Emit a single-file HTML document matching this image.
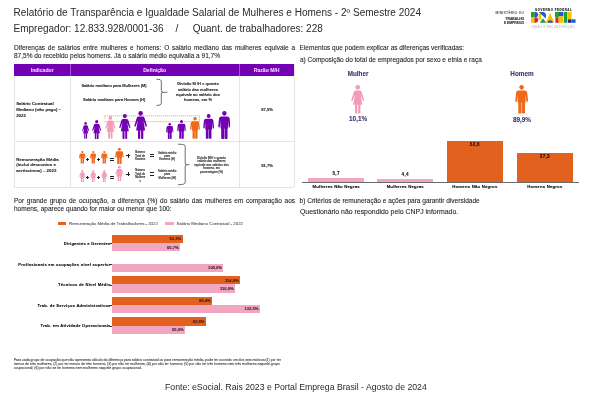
<!DOCTYPE html>
<html><head><meta charset="utf-8"><style>
html,body{margin:0;padding:0;background:#fff;}
body{width:600px;height:405px;position:relative;overflow:hidden;font-family:"Liberation Sans",sans-serif;}
.t{position:absolute;white-space:nowrap;}
.s{-webkit-text-stroke:0.08px currentColor;}
.r{position:absolute;display:block;}
#w{position:absolute;left:0;top:0;width:600px;height:405px;background:#fff;filter:blur(0.35px);}
</style></head><body><div id="w">
<div class="t" style="top:7.29px;font-size:10.04px;line-height:12.05px;color:#2a2a2a;left:13.60px;">Relatório de Transparência e Igualdade Salarial de Mulheres e Homens - 2º Semestre 2024</div>
<div class="t" style="top:22.63px;font-size:10px;line-height:12.00px;color:#2a2a2a;left:13.50px;">Empregador: 12.833.928/0001-36</div>
<div class="t" style="top:22.63px;font-size:10px;line-height:12.00px;color:#2a2a2a;left:175.60px;">/</div>
<div class="t" style="top:22.63px;font-size:10px;line-height:12.00px;color:#2a2a2a;left:192.70px;">Quant. de trabalhadores: 228</div>
<div class="t s" style="top:12.16px;font-size:3.3px;line-height:3.96px;color:#444;letter-spacing:0.3px;right:75.60px;text-align:right;">MINISTÉRIO DO</div>
<div class="t s" style="top:17.46px;font-size:3.35px;line-height:4.02px;color:#222;font-weight:700;letter-spacing:0px;right:75.80px;text-align:right;">TRABALHO</div>
<div class="t s" style="top:21.06px;font-size:3.35px;line-height:4.02px;color:#222;font-weight:700;letter-spacing:0px;right:75.80px;text-align:right;">E EMPREGO</div>
<div class="t s" style="top:9.36px;font-size:2.9px;line-height:3.48px;color:#111;font-weight:700;letter-spacing:0.53px;left:523.60px;width:60px;text-align:center;">GOVERNO FEDERAL</div>
<div class="t s" style="top:26.36px;font-size:2.6px;line-height:3.12px;color:#b4bcd8;letter-spacing:0.5px;left:523.20px;width:60px;text-align:center;">UNIÃO E RECONSTRUÇÃO</div>
<svg class="r" style="left:531.4px;top:12px" width="44.6" height="10.8" viewBox="0 0 557 135" preserveAspectRatio="none"><rect x="0" y="0" width="47" height="66" fill="#1ea038"/><path d="M47 0H55A33 33 0 0 1 55 66H47Z" fill="#2456d6"/><rect x="0" y="66" width="42" height="69" fill="#f6c200"/><path d="M42 66H55A34.5 34.5 0 0 1 55 135H42Z" fill="#e3241c"/><rect x="94" y="20" width="34" height="75" fill="#f6c200"/><path d="M96 0H150A40 40 0 0 1 186 55L186 82Z" fill="#2456d6"/><path d="M110 135L150 78L190 135Z" fill="#1ea038"/><path d="M186 135L238 8L292 135Z" fill="#f6c200"/><path d="M206 135A33 33 0 0 1 272 135Z" fill="#2456d6"/><rect x="300" y="0" width="50" height="68" fill="#1ea038"/><rect x="350" y="0" width="55" height="55" fill="#2456d6"/><rect x="305" y="68" width="40" height="67" fill="#e3241c"/><rect x="345" y="55" width="60" height="80" fill="#f6c200"/><rect x="412" y="0" width="42" height="135" fill="#1ea038"/><rect x="458" y="0" width="48" height="95" fill="#f6c200"/><rect x="462" y="92" width="42" height="43" fill="#1b2f7a"/><rect x="504" y="92" width="53" height="43" fill="#2456d6"/></svg>
<div class="t s" style="top:43.90px;font-size:6.5px;line-height:7.80px;color:#222;left:14.00px;width:281px;text-align:justify;text-align-last:justify;">Diferenças de salários entre mulheres e homens: O salário mediano das mulheres equivale a</div>
<div class="t s" style="top:52.30px;font-size:6.5px;line-height:7.80px;color:#222;left:14.00px;">87,5% do recebido pelos homens. Já o salário médio equivalia a 91,7%</div>
<div class="t s" style="top:44.00px;font-size:6.5px;line-height:7.80px;color:#222;left:299.60px;">Elementos que podem explicar as diferenças verificadas:</div>
<div class="t s" style="top:55.60px;font-size:6.5px;line-height:7.80px;color:#222;left:300.00px;">a) Composição do total de empregados por sexo e etnia e raça</div>
<div class="r" style="left:14.00px;top:63.80px;width:280.50px;height:12.10px;background:#7300b3;"></div>
<div class="r" style="left:70.00px;top:63.80px;width:0.80px;height:12.10px;background:#a852dc;"></div>
<div class="r" style="left:238.50px;top:63.80px;width:0.80px;height:12.10px;background:#a852dc;"></div>
<div class="t s" style="top:66.82px;font-size:5.1px;line-height:6.12px;color:#f4d2ff;font-weight:700;left:14.20px;width:56px;text-align:center;">Indicador</div>
<div class="t s" style="top:66.82px;font-size:5.1px;line-height:6.12px;color:#f4d2ff;font-weight:700;left:94.60px;width:120px;text-align:center;">Definição</div>
<div class="t s" style="top:66.82px;font-size:5.1px;line-height:6.12px;color:#f4d2ff;font-weight:700;left:238.70px;width:56px;text-align:center;">Razão M/H</div>
<div class="r" style="left:13.80px;top:75.90px;width:0.60px;height:111.30px;background:#e4e4e4;"></div>
<div class="r" style="left:70.00px;top:75.90px;width:0.60px;height:111.30px;background:#e4e4e4;"></div>
<div class="r" style="left:238.60px;top:75.90px;width:0.60px;height:111.30px;background:#e4e4e4;"></div>
<div class="r" style="left:293.90px;top:63.80px;width:0.60px;height:123.40px;background:#e4e4e4;"></div>
<div class="r" style="left:13.80px;top:141.10px;width:280.70px;height:0.60px;background:#e4e4e4;"></div>
<div class="r" style="left:13.80px;top:186.70px;width:280.70px;height:0.60px;background:#e4e4e4;"></div>
<div class="t s" style="top:101.18px;font-size:4.37px;line-height:5.24px;color:#222;font-weight:700;left:16.20px;">Salário Contratual</div>
<div class="t s" style="top:106.93px;font-size:4.37px;line-height:5.24px;color:#222;font-weight:700;left:16.20px;">Mediano (não pago) –</div>
<div class="t s" style="top:112.68px;font-size:4.37px;line-height:5.24px;color:#222;font-weight:700;left:16.20px;">2022</div>
<div class="t s" style="top:156.87px;font-size:4.38px;line-height:5.26px;color:#222;font-weight:700;left:16.20px;">Remuneração Média</div>
<div class="t s" style="top:162.37px;font-size:4.38px;line-height:5.26px;color:#222;font-weight:700;left:16.20px;">(inclui descontos e</div>
<div class="t s" style="top:167.87px;font-size:4.38px;line-height:5.26px;color:#222;font-weight:700;left:16.20px;">acréscimos) – 2022</div>
<div class="t s" style="top:84.00px;font-size:3.95px;line-height:4.74px;color:#222;font-weight:700;left:74.00px;width:80px;text-align:center;">Salário mediano para Mulheres (M)</div>
<div class="t s" style="top:98.20px;font-size:3.96px;line-height:4.75px;color:#222;font-weight:700;left:74.20px;width:80px;text-align:center;">Salário mediano para Homem (H)</div>
<svg class="r" style="left:150px;top:76px" width="30" height="34" viewBox="0 0 30 34" fill="none" stroke="#333" stroke-width="0.7"><path d="M6.5 3.2Q11.3 3.2 11.3 5V14.5Q11.3 16.3 13 16.3H17.5M13 16.3Q11.3 16.3 11.3 18V27.5Q11.3 29.5 6.5 29.5"/></svg>
<div class="t s" style="top:82.30px;font-size:4.0px;line-height:4.80px;color:#222;font-weight:700;left:168.00px;width:60px;text-align:center;">Divisão M /H = quanto</div>
<div class="t s" style="top:87.67px;font-size:4.0px;line-height:4.80px;color:#222;font-weight:700;left:168.00px;width:60px;text-align:center;">salário das mulheres</div>
<div class="t s" style="top:93.04px;font-size:4.0px;line-height:4.80px;color:#222;font-weight:700;left:168.00px;width:60px;text-align:center;">equivale ao salário dos</div>
<div class="t s" style="top:98.41px;font-size:4.0px;line-height:4.80px;color:#222;font-weight:700;left:168.00px;width:60px;text-align:center;">homens, em %</div>
<svg class="r" style="left:100px;top:112px" width="104" height="14" viewBox="0 0 104 14" fill="none" stroke="#d49a48" stroke-width="0.8" stroke-dasharray="1.1 0.9"><path d="M4.3 7V3.8H99.5V9.6"/><path d="M4.3 9.6H99.5"/></svg>
<svg class="r" style="left:81.70px;top:122.30px" width="7.30" height="16.70" viewBox="0 0 100 205" preserveAspectRatio="none" fill="#7300b3"><circle cx="50" cy="17" r="17"/><path d="M36 40H64Q75 40 79 50L97 106Q99 113 93 114Q88 115 86 109L71 70L84 142H16L29 70L14 109Q12 115 7 114Q1 113 3 106L21 50Q25 40 36 40Z"/><path d="M30 138H47V199Q47 205 40 205H37Q30 205 30 199Z"/><path d="M53 138H70V199Q70 205 63 205H60Q53 205 53 199Z"/></svg>
<svg class="r" style="left:92.00px;top:119.70px" width="9.40" height="19.30" viewBox="0 0 100 205" preserveAspectRatio="none" fill="#7300b3"><circle cx="50" cy="17" r="17"/><path d="M36 40H64Q75 40 79 50L97 106Q99 113 93 114Q88 115 86 109L71 70L84 142H16L29 70L14 109Q12 115 7 114Q1 113 3 106L21 50Q25 40 36 40Z"/><path d="M30 138H47V199Q47 205 40 205H37Q30 205 30 199Z"/><path d="M53 138H70V199Q70 205 63 205H60Q53 205 53 199Z"/></svg>
<svg class="r" style="left:105.00px;top:116.30px" width="10.70" height="22.70" viewBox="0 0 100 205" preserveAspectRatio="none" fill="#f29cb8"><circle cx="50" cy="17" r="17"/><path d="M36 40H64Q75 40 79 50L97 106Q99 113 93 114Q88 115 86 109L71 70L84 142H16L29 70L14 109Q12 115 7 114Q1 113 3 106L21 50Q25 40 36 40Z"/><path d="M30 138H47V199Q47 205 40 205H37Q30 205 30 199Z"/><path d="M53 138H70V199Q70 205 63 205H60Q53 205 53 199Z"/></svg>
<svg class="r" style="left:119.00px;top:114.00px" width="11.70" height="25.00" viewBox="0 0 100 205" preserveAspectRatio="none" fill="#7300b3"><circle cx="50" cy="17" r="17"/><path d="M36 40H64Q75 40 79 50L97 106Q99 113 93 114Q88 115 86 109L71 70L84 142H16L29 70L14 109Q12 115 7 114Q1 113 3 106L21 50Q25 40 36 40Z"/><path d="M30 138H47V199Q47 205 40 205H37Q30 205 30 199Z"/><path d="M53 138H70V199Q70 205 63 205H60Q53 205 53 199Z"/></svg>
<svg class="r" style="left:133.70px;top:111.00px" width="13.30" height="28.00" viewBox="0 0 100 205" preserveAspectRatio="none" fill="#7300b3"><circle cx="50" cy="17" r="17"/><path d="M36 40H64Q75 40 79 50L97 106Q99 113 93 114Q88 115 86 109L71 70L84 142H16L29 70L14 109Q12 115 7 114Q1 113 3 106L21 50Q25 40 36 40Z"/><path d="M30 138H47V199Q47 205 40 205H37Q30 205 30 199Z"/><path d="M53 138H70V199Q70 205 63 205H60Q53 205 53 199Z"/></svg>
<svg class="r" style="left:166.20px;top:122.70px" width="7.50" height="16.00" viewBox="0 0 100 205" preserveAspectRatio="none" fill="#7300b3"><circle cx="50" cy="17" r="17"/><path d="M26 40H74Q90 40 92 56L98 112Q99 120 92 120Q86 120 85 113L80 70V128H20V70L15 113Q14 120 8 120Q1 120 2 112L8 56Q10 40 26 40Z"/><path d="M25 124H48.5V199Q48.5 205 42 205H31Q25 205 25 199Z"/><path d="M51.5 124H75V199Q75 205 69 205H58Q51.5 205 51.5 199Z"/></svg>
<svg class="r" style="left:177.00px;top:120.00px" width="9.00" height="18.70" viewBox="0 0 100 205" preserveAspectRatio="none" fill="#7300b3"><circle cx="50" cy="17" r="17"/><path d="M26 40H74Q90 40 92 56L98 112Q99 120 92 120Q86 120 85 113L80 70V128H20V70L15 113Q14 120 8 120Q1 120 2 112L8 56Q10 40 26 40Z"/><path d="M25 124H48.5V199Q48.5 205 42 205H31Q25 205 25 199Z"/><path d="M51.5 124H75V199Q75 205 69 205H58Q51.5 205 51.5 199Z"/></svg>
<svg class="r" style="left:189.70px;top:117.00px" width="10.10" height="21.70" viewBox="0 0 100 205" preserveAspectRatio="none" fill="#f0681a"><circle cx="50" cy="17" r="17"/><path d="M26 40H74Q90 40 92 56L98 112Q99 120 92 120Q86 120 85 113L80 70V128H20V70L15 113Q14 120 8 120Q1 120 2 112L8 56Q10 40 26 40Z"/><path d="M25 124H48.5V199Q48.5 205 42 205H31Q25 205 25 199Z"/><path d="M51.5 124H75V199Q75 205 69 205H58Q51.5 205 51.5 199Z"/></svg>
<svg class="r" style="left:203.20px;top:114.00px" width="11.30" height="24.70" viewBox="0 0 100 205" preserveAspectRatio="none" fill="#7300b3"><circle cx="50" cy="17" r="17"/><path d="M26 40H74Q90 40 92 56L98 112Q99 120 92 120Q86 120 85 113L80 70V128H20V70L15 113Q14 120 8 120Q1 120 2 112L8 56Q10 40 26 40Z"/><path d="M25 124H48.5V199Q48.5 205 42 205H31Q25 205 25 199Z"/><path d="M51.5 124H75V199Q75 205 69 205H58Q51.5 205 51.5 199Z"/></svg>
<svg class="r" style="left:217.50px;top:110.70px" width="12.70" height="28.00" viewBox="0 0 100 205" preserveAspectRatio="none" fill="#7300b3"><circle cx="50" cy="17" r="17"/><path d="M26 40H74Q90 40 92 56L98 112Q99 120 92 120Q86 120 85 113L80 70V128H20V70L15 113Q14 120 8 120Q1 120 2 112L8 56Q10 40 26 40Z"/><path d="M25 124H48.5V199Q48.5 205 42 205H31Q25 205 25 199Z"/><path d="M51.5 124H75V199Q75 205 69 205H58Q51.5 205 51.5 199Z"/></svg>
<div class="t s" style="top:107.44px;font-size:4.16px;line-height:4.99px;color:#222;font-weight:700;left:247.20px;width:40px;text-align:center;">87,5%</div>
<svg class="r" style="left:79.00px;top:151.20px" width="6.70" height="12.50" viewBox="0 0 100 205" preserveAspectRatio="none" fill="#f0681a"><circle cx="50" cy="17" r="17"/><path d="M26 40H74Q90 40 92 56L98 112Q99 120 92 120Q86 120 85 113L80 70V128H20V70L15 113Q14 120 8 120Q1 120 2 112L8 56Q10 40 26 40Z"/><path d="M25 124H48.5V199Q48.5 205 42 205H31Q25 205 25 199Z"/><path d="M51.5 124H75V199Q75 205 69 205H58Q51.5 205 51.5 199Z"/></svg>
<svg class="r" style="left:79.00px;top:169.70px" width="6.70" height="12.00" viewBox="0 0 100 205" preserveAspectRatio="none" fill="#f29cb8"><circle cx="50" cy="17" r="17"/><path d="M36 40H64Q75 40 79 50L97 106Q99 113 93 114Q88 115 86 109L71 70L84 142H16L29 70L14 109Q12 115 7 114Q1 113 3 106L21 50Q25 40 36 40Z"/><path d="M30 138H47V199Q47 205 40 205H37Q30 205 30 199Z"/><path d="M53 138H70V199Q70 205 63 205H60Q53 205 53 199Z"/></svg>
<svg class="r" style="left:89.70px;top:151.20px" width="6.60" height="12.50" viewBox="0 0 100 205" preserveAspectRatio="none" fill="#f0681a"><circle cx="50" cy="17" r="17"/><path d="M26 40H74Q90 40 92 56L98 112Q99 120 92 120Q86 120 85 113L80 70V128H20V70L15 113Q14 120 8 120Q1 120 2 112L8 56Q10 40 26 40Z"/><path d="M25 124H48.5V199Q48.5 205 42 205H31Q25 205 25 199Z"/><path d="M51.5 124H75V199Q75 205 69 205H58Q51.5 205 51.5 199Z"/></svg>
<svg class="r" style="left:89.70px;top:169.70px" width="6.60" height="12.00" viewBox="0 0 100 205" preserveAspectRatio="none" fill="#f29cb8"><circle cx="50" cy="17" r="17"/><path d="M36 40H64Q75 40 79 50L97 106Q99 113 93 114Q88 115 86 109L71 70L84 142H16L29 70L14 109Q12 115 7 114Q1 113 3 106L21 50Q25 40 36 40Z"/><path d="M30 138H47V199Q47 205 40 205H37Q30 205 30 199Z"/><path d="M53 138H70V199Q70 205 63 205H60Q53 205 53 199Z"/></svg>
<svg class="r" style="left:101.40px;top:151.20px" width="6.60" height="12.50" viewBox="0 0 100 205" preserveAspectRatio="none" fill="#f0681a"><circle cx="50" cy="17" r="17"/><path d="M26 40H74Q90 40 92 56L98 112Q99 120 92 120Q86 120 85 113L80 70V128H20V70L15 113Q14 120 8 120Q1 120 2 112L8 56Q10 40 26 40Z"/><path d="M25 124H48.5V199Q48.5 205 42 205H31Q25 205 25 199Z"/><path d="M51.5 124H75V199Q75 205 69 205H58Q51.5 205 51.5 199Z"/></svg>
<svg class="r" style="left:101.40px;top:169.70px" width="6.60" height="12.00" viewBox="0 0 100 205" preserveAspectRatio="none" fill="#f29cb8"><circle cx="50" cy="17" r="17"/><path d="M36 40H64Q75 40 79 50L97 106Q99 113 93 114Q88 115 86 109L71 70L84 142H16L29 70L14 109Q12 115 7 114Q1 113 3 106L21 50Q25 40 36 40Z"/><path d="M30 138H47V199Q47 205 40 205H37Q30 205 30 199Z"/><path d="M53 138H70V199Q70 205 63 205H60Q53 205 53 199Z"/></svg>
<svg class="r" style="left:115.10px;top:147.60px" width="8.80" height="16.10" viewBox="0 0 100 205" preserveAspectRatio="none" fill="#f0681a"><circle cx="50" cy="17" r="17"/><path d="M26 40H74Q90 40 92 56L98 112Q99 120 92 120Q86 120 85 113L80 70V128H20V70L15 113Q14 120 8 120Q1 120 2 112L8 56Q10 40 26 40Z"/><path d="M25 124H48.5V199Q48.5 205 42 205H31Q25 205 25 199Z"/><path d="M51.5 124H75V199Q75 205 69 205H58Q51.5 205 51.5 199Z"/></svg>
<svg class="r" style="left:115.10px;top:166.30px" width="8.80" height="15.20" viewBox="0 0 100 205" preserveAspectRatio="none" fill="#f29cb8"><circle cx="50" cy="17" r="17"/><path d="M36 40H64Q75 40 79 50L97 106Q99 113 93 114Q88 115 86 109L71 70L84 142H16L29 70L14 109Q12 115 7 114Q1 113 3 106L21 50Q25 40 36 40Z"/><path d="M30 138H47V199Q47 205 40 205H37Q30 205 30 199Z"/><path d="M53 138H70V199Q70 205 63 205H60Q53 205 53 199Z"/></svg>
<div class="r" style="left:85.70px;top:159.20px;width:3.20px;height:1.00px;background:#222;"></div>
<div class="r" style="left:86.80px;top:158.10px;width:1.00px;height:3.20px;background:#222;"></div>
<div class="r" style="left:96.90px;top:159.20px;width:3.20px;height:1.00px;background:#222;"></div>
<div class="r" style="left:98.00px;top:158.10px;width:1.00px;height:3.20px;background:#222;"></div>
<div class="r" style="left:109.70px;top:158.20px;width:4.00px;height:1.00px;background:#222;"></div>
<div class="r" style="left:109.70px;top:160.20px;width:4.00px;height:1.00px;background:#222;"></div>
<div class="r" style="left:85.70px;top:177.00px;width:3.20px;height:1.00px;background:#222;"></div>
<div class="r" style="left:86.80px;top:175.90px;width:1.00px;height:3.20px;background:#222;"></div>
<div class="r" style="left:96.90px;top:177.00px;width:3.20px;height:1.00px;background:#222;"></div>
<div class="r" style="left:98.00px;top:175.90px;width:1.00px;height:3.20px;background:#222;"></div>
<div class="r" style="left:109.70px;top:176.00px;width:4.00px;height:1.00px;background:#222;"></div>
<div class="r" style="left:109.70px;top:178.00px;width:4.00px;height:1.00px;background:#222;"></div>
<div class="r" style="left:126.10px;top:155.45px;width:4.00px;height:0.90px;background:#222;"></div>
<div class="r" style="left:127.65px;top:153.90px;width:0.90px;height:4.00px;background:#222;"></div>
<div class="r" style="left:126.10px;top:173.55px;width:4.00px;height:0.90px;background:#222;"></div>
<div class="r" style="left:127.65px;top:172.00px;width:0.90px;height:4.00px;background:#222;"></div>
<div class="r" style="left:149.80px;top:154.35px;width:4.20px;height:1.00px;background:#222;"></div>
<div class="r" style="left:149.80px;top:156.45px;width:4.20px;height:1.00px;background:#222;"></div>
<div class="r" style="left:149.80px;top:172.45px;width:4.20px;height:1.00px;background:#222;"></div>
<div class="r" style="left:149.80px;top:174.55px;width:4.20px;height:1.00px;background:#222;"></div>
<div class="t s" style="top:150.93px;font-size:2.6px;line-height:3.12px;color:#333;font-weight:700;left:130.20px;width:20px;text-align:center;">Número</div>
<div class="t s" style="top:154.53px;font-size:2.6px;line-height:3.12px;color:#333;font-weight:700;left:130.20px;width:20px;text-align:center;">Total de</div>
<div class="t s" style="top:158.13px;font-size:2.6px;line-height:3.12px;color:#333;font-weight:700;left:130.20px;width:20px;text-align:center;">Homens</div>
<div class="t s" style="top:169.03px;font-size:2.6px;line-height:3.12px;color:#333;font-weight:700;left:130.20px;width:20px;text-align:center;">Número</div>
<div class="t s" style="top:172.58px;font-size:2.6px;line-height:3.12px;color:#333;font-weight:700;left:130.20px;width:20px;text-align:center;">Total de</div>
<div class="t s" style="top:176.13px;font-size:2.6px;line-height:3.12px;color:#333;font-weight:700;left:130.20px;width:20px;text-align:center;">Mulhere</div>
<div class="t s" style="top:179.68px;font-size:2.6px;line-height:3.12px;color:#333;font-weight:700;left:130.20px;width:20px;text-align:center;">s</div>
<div class="t s" style="top:151.61px;font-size:2.8px;line-height:3.36px;color:#333;font-weight:700;left:152.20px;width:30px;text-align:center;">Salário médio</div>
<div class="t s" style="top:154.81px;font-size:2.8px;line-height:3.36px;color:#333;font-weight:700;left:152.20px;width:30px;text-align:center;">para</div>
<div class="t s" style="top:158.01px;font-size:2.8px;line-height:3.36px;color:#333;font-weight:700;left:152.20px;width:30px;text-align:center;">Homens (H)</div>
<div class="t s" style="top:169.71px;font-size:2.8px;line-height:3.36px;color:#333;font-weight:700;left:152.20px;width:30px;text-align:center;">Salário médio</div>
<div class="t s" style="top:173.11px;font-size:2.8px;line-height:3.36px;color:#333;font-weight:700;left:152.20px;width:30px;text-align:center;">para</div>
<div class="t s" style="top:176.51px;font-size:2.8px;line-height:3.36px;color:#333;font-weight:700;left:152.20px;width:30px;text-align:center;">Mulheres (M)</div>
<svg class="r" style="left:170px;top:140px" width="30" height="48" viewBox="0 0 30 48" fill="none" stroke="#333" stroke-width="0.7"><path d="M8 4.2Q15.2 4.2 15.2 6V23Q15.2 24.8 16.8 24.8H19.5M16.8 24.8Q15.2 24.8 15.2 26.6V42.5Q15.2 44.7 8 44.7"/></svg>
<div class="t s" style="top:156.81px;font-size:2.85px;line-height:3.42px;color:#333;font-weight:700;left:186.50px;width:50px;text-align:center;">Divisão M/H = quanto</div>
<div class="t s" style="top:160.31px;font-size:2.85px;line-height:3.42px;color:#333;font-weight:700;left:186.50px;width:50px;text-align:center;">salário das mulheres</div>
<div class="t s" style="top:163.81px;font-size:2.85px;line-height:3.42px;color:#333;font-weight:700;left:186.50px;width:50px;text-align:center;">equivale aos salários dos</div>
<div class="t s" style="top:167.31px;font-size:2.85px;line-height:3.42px;color:#333;font-weight:700;left:186.50px;width:50px;text-align:center;">homens, em</div>
<div class="t s" style="top:170.81px;font-size:2.85px;line-height:3.42px;color:#333;font-weight:700;left:186.50px;width:50px;text-align:center;">porcentagem (%)</div>
<div class="t s" style="top:162.84px;font-size:4.16px;line-height:4.99px;color:#222;font-weight:700;left:247.20px;width:40px;text-align:center;">91,7%</div>
<div class="t s" style="top:197.00px;font-size:6.5px;line-height:7.80px;color:#222;left:14.00px;width:281px;text-align:justify;text-align-last:justify;">Por grande grupo de ocupação, a diferença (%) do salário das mulheres em comparação aos</div>
<div class="t s" style="top:205.30px;font-size:6.5px;line-height:7.80px;color:#222;left:14.00px;">homens, aparece quando for maior ou menor que 100:</div>
<div class="r" style="left:58.00px;top:221.90px;width:8.00px;height:2.80px;background:#e2611e;"></div>
<div class="t s" style="top:221.00px;font-size:4.35px;line-height:5.22px;color:#555;left:69.00px;">Remuneração Média de Trabalhadores - 2022</div>
<div class="r" style="left:165.00px;top:221.90px;width:8.70px;height:2.80px;background:#f1a7c1;"></div>
<div class="t s" style="top:220.99px;font-size:4.36px;line-height:5.23px;color:#555;left:176.60px;">Salário Mediano Contratual - 2022</div>
<div class="r" style="left:112.00px;top:234.80px;width:70.50px;height:8.30px;background:#e2611e;"></div>
<div class="t s" style="top:237.23px;font-size:4.1px;line-height:4.92px;color:#3a1a10;font-weight:700;right:418.80px;text-align:right;">63,3%</div>
<div class="r" style="left:112.00px;top:243.10px;width:68.00px;height:8.30px;background:#f1a7c1;"></div>
<div class="t s" style="top:245.53px;font-size:4.1px;line-height:4.92px;color:#3a2030;font-weight:700;right:421.30px;text-align:right;">60,7%</div>
<div class="r" style="left:110.00px;top:243.30px;width:2.00px;height:0.60px;background:#333;"></div>
<div class="t s" style="top:241.88px;font-size:4.1px;line-height:4.92px;color:#000;font-weight:700;letter-spacing:0.22px;right:489.60px;text-align:right;margin-right:-0.22px;">Dirigentes e Gerentes</div>
<div class="r" style="left:112.00px;top:263.80px;width:111.30px;height:8.30px;background:#f1a7c1;"></div>
<div class="t s" style="top:266.23px;font-size:4.1px;line-height:4.92px;color:#3a2030;font-weight:700;right:378.00px;text-align:right;">100,0%</div>
<div class="r" style="left:110.00px;top:264.00px;width:2.00px;height:0.60px;background:#333;"></div>
<div class="t s" style="top:262.58px;font-size:4.1px;line-height:4.92px;color:#000;font-weight:700;letter-spacing:0.22px;right:489.60px;text-align:right;margin-right:-0.22px;">Profissionais em ocupações nível superior</div>
<div class="r" style="left:112.00px;top:276.10px;width:128.00px;height:8.30px;background:#e2611e;"></div>
<div class="t s" style="top:278.53px;font-size:4.1px;line-height:4.92px;color:#3a1a10;font-weight:700;right:361.30px;text-align:right;">114,8%</div>
<div class="r" style="left:112.00px;top:284.40px;width:123.00px;height:8.30px;background:#f1a7c1;"></div>
<div class="t s" style="top:286.83px;font-size:4.1px;line-height:4.92px;color:#3a2030;font-weight:700;right:366.30px;text-align:right;">110,0%</div>
<div class="r" style="left:110.00px;top:284.60px;width:2.00px;height:0.60px;background:#333;"></div>
<div class="t s" style="top:283.18px;font-size:4.1px;line-height:4.92px;color:#000;font-weight:700;letter-spacing:0.22px;right:489.60px;text-align:right;margin-right:-0.22px;">Técnicos de Nível Médio</div>
<div class="r" style="left:112.00px;top:296.70px;width:100.00px;height:8.30px;background:#e2611e;"></div>
<div class="t s" style="top:299.13px;font-size:4.1px;line-height:4.92px;color:#3a1a10;font-weight:700;right:389.30px;text-align:right;">89,4%</div>
<div class="r" style="left:112.00px;top:305.00px;width:147.60px;height:8.30px;background:#f1a7c1;"></div>
<div class="t s" style="top:307.43px;font-size:4.1px;line-height:4.92px;color:#3a2030;font-weight:700;right:341.70px;text-align:right;">132,5%</div>
<div class="r" style="left:110.00px;top:305.20px;width:2.00px;height:0.60px;background:#333;"></div>
<div class="t s" style="top:303.78px;font-size:4.1px;line-height:4.92px;color:#000;font-weight:700;letter-spacing:0.22px;right:489.60px;text-align:right;margin-right:-0.22px;">Trab. de Serviços Administrativos</div>
<div class="r" style="left:112.00px;top:317.40px;width:93.60px;height:8.30px;background:#e2611e;"></div>
<div class="t s" style="top:319.83px;font-size:4.1px;line-height:4.92px;color:#3a1a10;font-weight:700;right:395.70px;text-align:right;">83,8%</div>
<div class="r" style="left:112.00px;top:325.70px;width:73.00px;height:8.30px;background:#f1a7c1;"></div>
<div class="t s" style="top:328.13px;font-size:4.1px;line-height:4.92px;color:#3a2030;font-weight:700;right:416.30px;text-align:right;">65,0%</div>
<div class="r" style="left:110.00px;top:325.90px;width:2.00px;height:0.60px;background:#333;"></div>
<div class="t s" style="top:324.48px;font-size:4.1px;line-height:4.92px;color:#000;font-weight:700;letter-spacing:0.22px;right:489.60px;text-align:right;margin-right:-0.22px;">Trab. em Atividade Operacionais</div>
<div class="t s" style="top:357.95px;font-size:3.5px;line-height:4.20px;color:#3a3a3a;left:13.70px;">Para cada grupo de ocupação que não apresenta cálculo da diferença para salário contratual ou para remuneração média, pode ter ocorrido um dos seis motivos:(1) por ter</div>
<div class="t s" style="top:361.55px;font-size:3.5px;line-height:4.20px;color:#3a3a3a;left:13.70px;">menos de três mulheres; (2) por ter menos de três homens; (3) por não ter mulheres; (4) por não ter homens; (5) por não ter três homens nem três mulheres naquele grupo</div>
<div class="t s" style="top:365.55px;font-size:3.5px;line-height:4.20px;color:#3a3a3a;left:13.70px;">ocupacional; (6) por não se ter homens nem mulheres naquele grupo ocupacional.</div>
<div class="t" style="top:381.82px;font-size:8.7px;line-height:10.44px;color:#2a2a2a;left:165.00px;">Fonte: eSocial. Rais 2023 e Portal Emprega Brasil - Agosto de 2024</div>
<div class="t s" style="top:69.93px;font-size:6.28px;line-height:7.54px;color:#3b2e6e;font-weight:700;left:338.10px;width:40px;text-align:center;">Mulher</div>
<svg class="r" style="left:351.10px;top:85.00px" width="13.50" height="28.60" viewBox="0 0 100 205" preserveAspectRatio="none" fill="#f29cb8"><circle cx="50" cy="17" r="17"/><path d="M36 40H64Q75 40 79 50L97 106Q99 113 93 114Q88 115 86 109L71 70L84 142H16L29 70L14 109Q12 115 7 114Q1 113 3 106L21 50Q25 40 36 40Z"/><path d="M30 138H47V199Q47 205 40 205H37Q30 205 30 199Z"/><path d="M53 138H70V199Q70 205 63 205H60Q53 205 53 199Z"/></svg>
<div class="t s" style="top:115.48px;font-size:6.42px;line-height:7.70px;color:#3b2e6e;font-weight:700;left:338.10px;width:40px;text-align:center;">10,1%</div>
<div class="t s" style="top:69.90px;font-size:6.35px;line-height:7.62px;color:#3b2e6e;font-weight:700;left:502.00px;width:40px;text-align:center;">Homem</div>
<svg class="r" style="left:515.20px;top:85.00px" width="13.30" height="28.60" viewBox="0 0 100 205" preserveAspectRatio="none" fill="#f0681a"><circle cx="50" cy="17" r="17"/><path d="M26 40H74Q90 40 92 56L98 112Q99 120 92 120Q86 120 85 113L80 70V128H20V70L15 113Q14 120 8 120Q1 120 2 112L8 56Q10 40 26 40Z"/><path d="M25 124H48.5V199Q48.5 205 42 205H31Q25 205 25 199Z"/><path d="M51.5 124H75V199Q75 205 69 205H58Q51.5 205 51.5 199Z"/></svg>
<div class="t s" style="top:115.98px;font-size:6.42px;line-height:7.70px;color:#3b2e6e;font-weight:700;left:502.00px;width:40px;text-align:center;">89,9%</div>
<div class="r" style="left:301.70px;top:182.30px;width:277.10px;height:0.80px;background:#6b6b6b;"></div>
<div class="r" style="left:308.00px;top:178.10px;width:56.00px;height:4.20px;background:#f1a7c1;"></div>
<div class="t s" style="top:171.37px;font-size:4.6px;line-height:5.52px;color:#1a1008;font-weight:700;letter-spacing:0.3px;left:321.15px;width:30px;text-align:center;">5,7</div>
<div class="t s" style="top:184.37px;font-size:4.25px;line-height:5.10px;color:#000;font-weight:700;letter-spacing:0.2px;left:301.15px;width:70px;text-align:center;">Mulheres Não Negras</div>
<div class="r" style="left:377.20px;top:179.10px;width:55.80px;height:3.20px;background:#f1a7c1;"></div>
<div class="t s" style="top:172.27px;font-size:4.6px;line-height:5.52px;color:#1a1008;font-weight:700;letter-spacing:0.3px;left:390.25px;width:30px;text-align:center;">4,4</div>
<div class="t s" style="top:184.37px;font-size:4.25px;line-height:5.10px;color:#000;font-weight:700;letter-spacing:0.2px;left:370.25px;width:70px;text-align:center;">Mulheres Negras</div>
<div class="r" style="left:447.00px;top:140.50px;width:55.50px;height:41.80px;background:#e2611e;"></div>
<div class="t s" style="top:142.37px;font-size:4.6px;line-height:5.52px;color:#1a1008;font-weight:700;letter-spacing:0.3px;left:459.90px;width:30px;text-align:center;">52,6</div>
<div class="t s" style="top:184.37px;font-size:4.25px;line-height:5.10px;color:#000;font-weight:700;letter-spacing:0.2px;left:439.90px;width:70px;text-align:center;">Homens Não Negros</div>
<div class="r" style="left:517.00px;top:152.50px;width:55.50px;height:29.80px;background:#e2611e;"></div>
<div class="t s" style="top:154.47px;font-size:4.6px;line-height:5.52px;color:#1a1008;font-weight:700;letter-spacing:0.3px;left:529.90px;width:30px;text-align:center;">37,3</div>
<div class="t s" style="top:184.37px;font-size:4.25px;line-height:5.10px;color:#000;font-weight:700;letter-spacing:0.2px;left:509.90px;width:70px;text-align:center;">Homens Negros</div>
<div class="t s" style="top:196.87px;font-size:6.54px;line-height:7.85px;color:#222;left:299.60px;">b) Critérios de remuneração e ações para garantir diversidade</div>
<div class="t s" style="top:208.38px;font-size:6.92px;line-height:8.30px;color:#222;left:300.00px;">Questionário não respondido pelo CNPJ informado.</div>
</div></body></html>
